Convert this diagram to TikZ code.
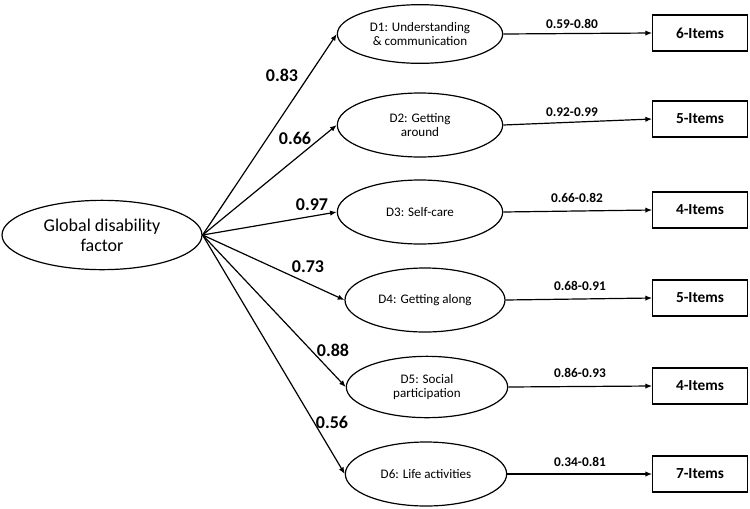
\documentclass[tikz,border=0pt]{standalone}
\usepackage{fontspec}
\setmainfont{Carlito}
\usetikzlibrary{shapes.geometric,arrows.meta}

\begin{document}
\begin{tikzpicture}[x=0.75pt, y=-0.75pt, line width=0.9pt,
  factor/.style={draw, ellipse, inner sep=0pt, align=center},
  dimnode/.style={draw, ellipse, inner sep=0pt, minimum width=124pt, minimum height=48pt, align=center, font=\fontsize{9.8}{10}\selectfont},
  itembox/.style={draw, rectangle, minimum width=71pt, minimum height=27pt, font=\fontsize{11.5}{13}\selectfont\bfseries},
  loadlbl/.style={font=\fontsize{13.5}{15}\selectfont\bfseries},
  rangelbl/.style={font=\fontsize{10}{12}\selectfont\bfseries},
  arr/.style={-{Latex[length=5pt,width=4pt]}}]
\useasboundingbox (0,0) rectangle (750,508);

\node[factor, minimum width=150pt, minimum height=52pt, font=\fontsize{13.5}{15}\selectfont] (glob) at (102,235) {Global disability\\factor};

\node[dimnode, minimum height=44pt] (d1) at (420,34) {D1: Understanding\\\& communication};
\node[dimnode] (d2) at (420,125) {D2: Getting\\around};
\node[dimnode] (d3) at (420,212) {D3: Self-care};
\node[dimnode, minimum width=120pt] (d4) at (425,300) {D4: Getting along};
\node[dimnode, minimum width=121pt, minimum height=46pt] (d5) at (427,387) {D5: Social\\participation};
\node[dimnode, minimum width=121pt] (d6) at (426,474) {D6: Life activities};

\node[itembox] (i1) at (700,33) {6-Items};
\node[itembox] (i2) at (700,119) {5-Items};
\node[itembox] (i3) at (700,210) {4-Items};
\node[itembox] (i4) at (700,298) {5-Items};
\node[itembox] (i5) at (700,386) {4-Items};
\node[itembox] (i6) at (700,474) {7-Items};

% loadings on the global factor
\node[loadlbl] (w1) at (282,75) {0.83};
\node[loadlbl] (w2) at (295,138) {0.66};
\node[loadlbl] (w3) at (312,205) {0.97};
\node[loadlbl] (w4) at (308,267) {0.73};
\node[loadlbl] (w5) at (333,350) {0.88};
\node[loadlbl] (w6) at (332,422) {0.56};

% item loading ranges
\node[rangelbl] (r1) at (572,24) {0.59-0.80};
\node[rangelbl] (r2) at (572,112) {0.92-0.99};
\node[rangelbl] (r3) at (577,198) {0.66-0.82};
\node[rangelbl] (r4) at (580,286) {0.68-0.91};
\node[rangelbl] (r5) at (580,373) {0.86-0.93};
\node[rangelbl] (r6) at (580,462) {0.34-0.81};

\draw[arr] (glob.east) -- (d1.west);
\draw[arr] (glob.east) -- (d2.west);
\draw[arr] (glob.east) -- (d3.west);
\draw[arr] (glob.east) -- (d4.west);
\draw[arr] (glob.east) -- (d5.west);
\draw[arr] (glob.east) -- (d6.west);

\draw[arr] (d1.east) -- (i1.west);
\draw[arr] (d2.east) -- (i2.west);
\draw[arr] (d3.east) -- (i3.west);
\draw[arr] (d4.east) -- (i4.west);
\draw[arr] (d5.east) -- (i5.west);
\draw[arr] (d6.east) -- (i6.west);
\end{tikzpicture}
\end{document}
